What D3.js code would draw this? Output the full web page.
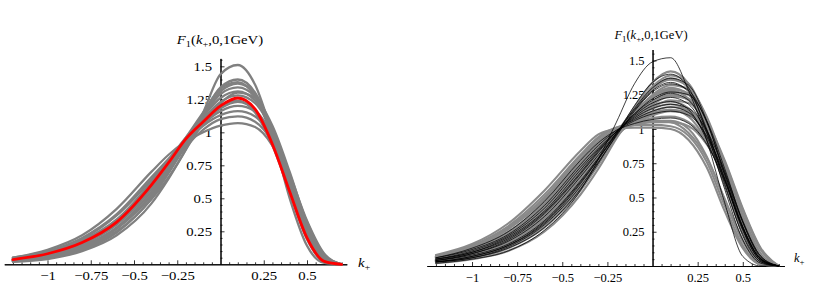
<!DOCTYPE html>
<html>
<head>
<meta charset="utf-8">
<script src="https://cdn.jsdelivr.net/npm/d3@7"></script>
<style>
  body { margin: 0; background: #fff; }
  text { font-family: "Liberation Serif", "Times New Roman", serif; fill: #000; }
  .left text { font-size: 12.5px; }
  .right text { font-size: 12.5px; }
</style>
</head>
<body>
<svg id="vis" width="817" height="303"></svg>
<script>
// k+ sample points
var kGrid = [-1.2, -1.0, -0.8, -0.6, -0.4, -0.3, -0.2, -0.1, 0, 0.1, 0.2, 0.3, 0.4, 0.5, 0.6, 0.7];

// left panel: grey bundle and the red central curve
var leftGray = [
  [0.03,0.06,0.12,0.25,0.49,0.66,0.87,1.15,1.44,1.51,1.36,0.98,0.50,0.14,0.01,0],
  [0.03,0.07,0.14,0.28,0.55,0.72,0.92,1.14,1.34,1.40,1.30,1.00,0.58,0.22,0.03,0],
  [0.04,0.08,0.16,0.31,0.58,0.74,0.93,1.13,1.31,1.37,1.29,1.02,0.62,0.25,0.04,0],
  [0.02,0.05,0.12,0.27,0.52,0.70,0.91,1.12,1.29,1.34,1.27,1.03,0.65,0.27,0.05,0],
  [0.04,0.09,0.18,0.34,0.62,0.78,0.95,1.12,1.26,1.31,1.24,1.00,0.63,0.26,0.04,0],
  [0.03,0.07,0.15,0.30,0.57,0.74,0.93,1.10,1.23,1.28,1.22,1.01,0.67,0.30,0.06,0],
  [0.05,0.10,0.20,0.38,0.66,0.80,0.94,1.07,1.18,1.23,1.17,0.95,0.60,0.24,0.03,0],
  [0.02,0.05,0.11,0.24,0.50,0.69,0.90,1.06,1.16,1.20,1.16,0.98,0.68,0.33,0.08,0],
  [0.04,0.09,0.19,0.37,0.64,0.79,0.93,1.05,1.13,1.16,1.12,0.94,0.62,0.27,0.05,0],
  [0.03,0.06,0.13,0.27,0.53,0.71,0.89,1.02,1.10,1.12,1.08,0.93,0.66,0.32,0.07,0],
  [0.05,0.11,0.22,0.42,0.70,0.83,0.93,1.00,1.05,1.07,1.04,0.90,0.63,0.30,0.06,0],
  [0.02,0.04,0.10,0.22,0.46,0.65,0.87,1.07,1.22,1.30,1.26,1.05,0.70,0.31,0.06,0],
  [0.04,0.08,0.17,0.33,0.60,0.77,0.96,1.15,1.33,1.38,1.27,0.96,0.55,0.19,0.02,0],
  [0.03,0.07,0.15,0.32,0.62,0.79,0.96,1.10,1.20,1.24,1.15,0.90,0.55,0.20,0.02,0]
];
var leftRed = [0.036,0.08,0.165,0.32,0.60,0.77,0.95,1.08,1.20,1.26,1.175,0.91,0.55,0.20,0.022,0];

// right panel: thick grey curves and thin black ones
var rightGray = [
  [0.03,0.06,0.13,0.28,0.55,0.74,0.95,1.16,1.34,1.42,1.33,1.03,0.62,0.25,0.04,0],
  [0.04,0.08,0.16,0.32,0.60,0.78,0.97,1.15,1.30,1.37,1.30,1.04,0.65,0.28,0.05,0],
  [0.02,0.05,0.11,0.25,0.52,0.71,0.93,1.13,1.29,1.36,1.31,1.08,0.70,0.31,0.06,0],
  [0.05,0.10,0.19,0.37,0.66,0.82,0.98,1.12,1.24,1.30,1.25,1.02,0.66,0.29,0.05,0],
  [0.03,0.07,0.15,0.31,0.59,0.77,0.96,1.12,1.25,1.32,1.29,1.09,0.74,0.35,0.08,0],
  [0.04,0.09,0.18,0.36,0.65,0.81,0.97,1.10,1.20,1.25,1.21,1.01,0.68,0.32,0.07,0],
  [0.06,0.12,0.23,0.43,0.73,0.87,0.99,1.08,1.15,1.18,1.13,0.93,0.61,0.27,0.05,0],
  [0.03,0.07,0.15,0.31,0.59,0.76,0.94,1.08,1.18,1.24,1.22,1.06,0.77,0.42,0.13,0],
  [0.05,0.11,0.22,0.41,0.70,0.85,0.98,1.07,1.13,1.16,1.13,0.97,0.68,0.33,0.07,0],
  [0.07,0.14,0.27,0.49,0.78,0.91,1.00,1.04,1.06,1.06,1.00,0.80,0.48,0.18,0.02,0],
  [0.06,0.13,0.25,0.46,0.76,0.89,0.99,1.04,1.08,1.09,1.05,0.90,0.63,0.30,0.06,0],
  [0.07,0.15,0.29,0.52,0.81,0.94,1.01,1.03,1.03,1.02,0.95,0.76,0.44,0.15,0.01,0],
  [0.08,0.16,0.31,0.55,0.84,0.96,1.00,1.01,1.01,1.00,0.92,0.72,0.40,0.13,0.01,0],
  [0.05,0.11,0.21,0.40,0.69,0.84,0.96,1.05,1.11,1.14,1.12,0.99,0.72,0.37,0.09,0],
  [0.04,0.09,0.18,0.35,0.63,0.79,0.95,1.09,1.20,1.27,1.25,1.07,0.73,0.34,0.07,0],
  [0.03,0.06,0.14,0.29,0.57,0.75,0.95,1.14,1.31,1.39,1.33,1.06,0.66,0.27,0.04,0],
  [0.06,0.12,0.24,0.45,0.75,0.88,0.98,1.06,1.12,1.14,1.09,0.91,0.62,0.28,0.05,0],
  [0.05,0.10,0.20,0.39,0.68,0.83,0.97,1.08,1.16,1.21,1.19,1.04,0.76,0.41,0.12,0],
  [0.07,0.14,0.28,0.50,0.80,0.93,1.01,1.05,1.06,1.05,0.97,0.79,0.49,0.19,0.02,0],
  [0.04,0.08,0.17,0.34,0.62,0.79,0.97,1.12,1.23,1.29,1.26,1.07,0.74,0.36,0.08,0],
  [0.06,0.12,0.24,0.44,0.74,0.87,0.97,1.04,1.10,1.13,1.11,0.99,0.74,0.40,0.12,0],
  [0.05,0.10,0.21,0.41,0.71,0.86,0.99,1.09,1.17,1.20,1.15,0.95,0.63,0.28,0.05,0],
  [0.04,0.08,0.16,0.33,0.61,0.78,0.96,1.11,1.23,1.28,1.22,0.99,0.64,0.28,0.05,0],
  [0.07,0.14,0.27,0.48,0.78,0.91,0.99,1.03,1.05,1.05,1.02,0.89,0.65,0.33,0.08,0]
];
var rightBlack = [
  [0.02,0.05,0.11,0.26,0.55,0.78,1.05,1.33,1.49,1.52,1.28,0.92,0.46,0.07,0,0],
  [0.03,0.06,0.13,0.28,0.56,0.75,0.96,1.17,1.34,1.40,1.30,0.98,0.56,0.19,0.02,0],
  [0.04,0.08,0.16,0.33,0.62,0.79,0.97,1.14,1.28,1.34,1.27,1.00,0.60,0.22,0.03,0],
  [0.05,0.10,0.20,0.39,0.68,0.84,0.98,1.11,1.21,1.26,1.21,0.99,0.63,0.26,0.04,0],
  [0.03,0.07,0.15,0.32,0.61,0.78,0.96,1.11,1.22,1.27,1.25,1.06,0.71,0.32,0.06,0],
  [0.06,0.12,0.23,0.44,0.74,0.88,0.99,1.07,1.13,1.16,1.12,0.94,0.63,0.28,0.05,0],
  [0.04,0.09,0.18,0.36,0.65,0.81,0.97,1.10,1.19,1.23,1.18,0.97,0.64,0.28,0.05,0],
  [0.05,0.11,0.22,0.42,0.72,0.86,0.98,1.06,1.11,1.13,1.10,0.95,0.67,0.32,0.07,0],
  [0.03,0.06,0.14,0.30,0.58,0.76,0.95,1.13,1.27,1.33,1.28,1.05,0.68,0.29,0.05,0],
  [0.04,0.09,0.19,0.38,0.67,0.83,0.98,1.09,1.17,1.20,1.14,0.92,0.58,0.23,0.03,0],
  [0.06,0.13,0.25,0.47,0.77,0.90,0.99,1.04,1.07,1.08,1.04,0.89,0.62,0.28,0.05,0],
  [0.03,0.07,0.15,0.31,0.60,0.78,0.97,1.15,1.30,1.37,1.32,1.06,0.66,0.27,0.04,0],
  [0.05,0.10,0.21,0.40,0.70,0.85,0.98,1.08,1.15,1.18,1.15,0.99,0.69,0.33,0.07,0]
];

// ticks
var xTicks = [-1, -0.75, -0.5, -0.25, 0.25, 0.5];
var xTickLabels = ["\u22121", "\u22120.75", "\u22120.5", "\u22120.25", "0.25", "0.5"];
var yTicks = [0.25, 0.5, 0.75, 1, 1.25, 1.5];
var yTickLabels = ["0.25", "0.5", "0.75", "1", "1.25", "1.5"];

var svg = d3.select("#vis");

function fmt(ticks, labels) {
  return function(d) { return labels[ticks.indexOf(d)]; };
}

function drawPanel(p) {
  var x = d3.scaleLinear().domain([-1.25, 0.73]).range(p.xRange);
  var y = d3.scaleLinear().domain([0, p.yTop]).range(p.yRange);
  var g = svg.append("g").attr("class", p.cls);
  var stretch = "scale(" + p.sx + ",1)";

  // minor ticks every 0.05
  var xMinor = d3.range(-25, 15).map(function(i) { return i * 0.05; })
    .filter(function(v) { return Math.abs(v) > 1e-9 && Math.abs(v * 4 - Math.round(v * 4)) > 1e-6; });
  var yMinor = d3.range(1, Math.floor(p.yTop / 0.05) + 1).map(function(i) { return i * 0.05; })
    .filter(function(v) { return Math.abs(v * 4 - Math.round(v * 4)) > 1e-6; });

  g.append("g").attr("transform", "translate(0," + y(0) + ")")
    .call(d3.axisBottom(x).tickValues(xMinor).tickSize(-2).tickSizeOuter(0).tickFormat(""));
  g.append("g").attr("transform", "translate(" + x(0) + ",0)")
    .call(d3.axisLeft(y).tickValues(yMinor).tickSize(-2).tickSizeOuter(0).tickFormat(""));

  var xAxis = g.append("g").attr("transform", "translate(0," + y(0) + ")")
    .call(d3.axisBottom(x).tickValues(xTicks).tickSize(-4).tickSizeOuter(0)
      .tickFormat(fmt(xTicks, xTickLabels)));
  xAxis.selectAll("text").attr("y", 16).attr("dy", null).attr("transform", stretch);

  var yAxis = g.append("g").attr("transform", "translate(" + x(0) + ",0)")
    .call(d3.axisLeft(y).tickValues(yTicks).tickSize(-4).tickSizeOuter(0)
      .tickFormat(fmt(yTicks, yTickLabels)));
  yAxis.selectAll("text").attr("x", null).attr("dy", "0.33em")
    .attr("transform", "translate(" + (-p.yPad) + ",0) " + stretch);

  g.selectAll(".domain").attr("stroke", "#000").attr("stroke-width", 1);
  g.selectAll(".tick line").attr("stroke", "#000").attr("stroke-width", 0.8);
  g.selectAll(".tick text").attr("fill", "#000");
  g.selectAll("g").attr("font-family", null).attr("font-size", null);

  // axis title on top and k+ label at the end of the horizontal axis
  var t = g.append("text").attr("text-anchor", "middle")
    .attr("transform", "translate(" + p.titleX + "," + p.titleY + ") " + stretch);
  t.append("tspan").attr("font-style", "italic").text("F");
  t.append("tspan").attr("font-size", "0.7em").attr("dy", 3).text("1");
  t.append("tspan").attr("dy", -3).text("(");
  t.append("tspan").attr("font-style", "italic").text("k");
  t.append("tspan").attr("font-size", "0.7em").attr("dy", 3).text("+");
  t.append("tspan").attr("dy", -3).text(",0,1GeV)");

  var kl = g.append("text")
    .attr("transform", "translate(" + p.kX + "," + p.kY + ") " + stretch);
  kl.append("tspan").attr("font-style", "italic").text("k");
  kl.append("tspan").attr("font-size", "0.7em").attr("dy", 3).text("+");

  var line = d3.line()
    .x(function(d, i) { return x(kGrid[i]); })
    .y(function(d) { return y(d); })
    .curve(d3.curveMonotoneX);

  // curves drawn in the given order
  g.append("g").selectAll("path").data(p.curves).enter().append("path")
    .attr("d", function(c) { return line(c.values); })
    .attr("fill", "none")
    .attr("stroke", function(c) { return c.color; })
    .attr("stroke-width", function(c) { return c.width; })
    .attr("stroke-linejoin", "round")
    .attr("stroke-linecap", "round");
}

var leftCurves = leftGray.map(function(v) { return { values: v, color: "#808080", width: 2.3 }; })
  .concat([{ values: leftRed, color: "#ff0000", width: 2.8 }]);

function grey(v) { return { values: v, color: "#8a8a8a", width: 2.1 }; }
function black(v) { return { values: v, color: "#000", width: 0.75 }; }
var rightCurves = rightGray.map(grey).concat(rightBlack.map(black));

drawPanel({
  cls: "left",
  xRange: [4.25, 346.8],
  yTop: 1.56,
  yRange: [264.3, 58.4],
  sx: 1.18,
  yPad: 8.5,
  titleX: 220, titleY: 44,
  kX: 358, kY: 267,
  curves: leftCurves
});

drawPanel({
  cls: "right",
  xRange: [426.9, 784.3],
  yTop: 1.58,
  yRange: [266, 49.5],
  sx: 1,
  yPad: 8,
  titleX: 651, titleY: 38.5,
  kX: 794, kY: 262,
  curves: rightCurves
});
</script>
</body>
</html>
